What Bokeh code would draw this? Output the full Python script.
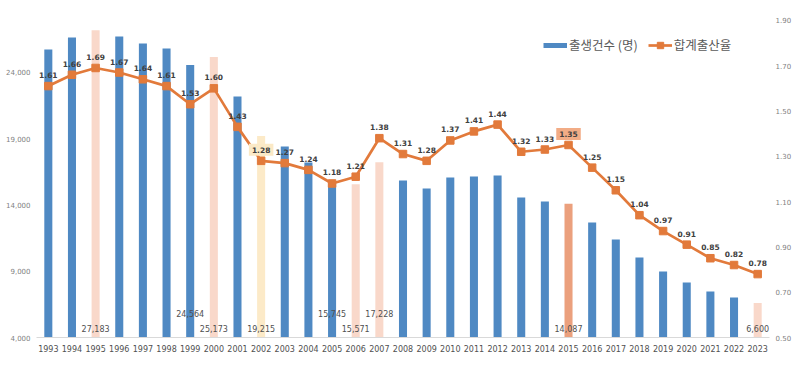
from bokeh.plotting import figure
from bokeh.models import (ColumnDataSource, FactorRange, Range1d, LinearAxis, FixedTicker,
                          NumeralTickFormatter, Legend, LegendItem)
from bokeh.core.properties import value
from bokeh.embed import file_html
from bokeh.resources import INLINE

# ---------------- data ----------------
years = [str(y) for y in range(1993, 2024)]
births = [25740, 26640, 27183, 26720, 26190, 25810, 24564, 25173, 22190, 19215,
          18420, 17210, 15745, 15571, 17228, 15850, 15250, 16080, 16150, 16230,
          14570, 14260, 14087, 12680, 11400, 10040, 8980, 8150, 7470, 7020, 6600]
tfr = [1.61, 1.66, 1.69, 1.67, 1.64, 1.61, 1.53, 1.60, 1.43, 1.28,
       1.27, 1.24, 1.18, 1.21, 1.38, 1.31, 1.28, 1.37, 1.41, 1.44,
       1.32, 1.33, 1.35, 1.25, 1.15, 1.04, 0.97, 0.91, 0.85, 0.82, 0.78]
bar_label_years = ["1995", "1999", "2000", "2002", "2005", "2006", "2007", "2015", "2023"]
births_ticks = [4000, 9000, 14000, 19000, 24000]
tfr_ticks = [0.50, 0.70, 0.90, 1.10, 1.30, 1.50, 1.70, 1.90]
series_names = ["출생건수 (명)", "합계출산율"]

# ---------------- styles ----------------
BLUE = "#4F89C3"
PEACH = "#F9D8CA"
YELLOW = "#FCEAC8"
SALMON = "#EBA07D"
ORANGE = "#E27A3B"
bar_highlight = {"1995": PEACH, "2000": PEACH, "2006": PEACH, "2007": PEACH, "2023": PEACH,
                 "2002": YELLOW, "2015": SALMON}
label_box = {"2002": "#FBE9C6", "2015": "#F2AC86"}
raised_labels = {"1999", "2005", "2007"}

y_start, y_end = 4000, 28981
r_start, r_end = 0.5, 1.9614

p = figure(width=800, height=368, x_range=FactorRange(*years, range_padding=0),
           y_range=Range1d(y_start, y_end), output_backend="svg", toolbar_location=None,
           min_border_left=36, min_border_right=31, min_border_top=6, min_border_bottom=31)
p.extra_y_ranges = {"rate": Range1d(r_start, r_end)}
p.outline_line_color = None
p.xgrid.grid_line_color = None
p.ygrid.grid_line_color = None
p.background_fill_color = "white"

bar_src = ColumnDataSource(dict(x=years, top=births,
                                color=[bar_highlight.get(y, BLUE) for y in years]))
bars = p.vbar(x="x", top="top", bottom=y_start, width=0.34, source=bar_src,
              fill_color="color", line_color=None)

line_src = ColumnDataSource(dict(x=years, y=tfr, lab=[f"{v:.2f}" for v in tfr],
                                 bg=[label_box.get(y, "#FFFFFF") for y in years],
                                 bga=[1.0 if y in label_box else 0.0 for y in years]))
ln = p.line(x="x", y="y", source=line_src, y_range_name="rate", line_color=ORANGE, line_width=2.7)
mk = p.scatter(x="x", y="y", source=line_src, y_range_name="rate", marker="square", size=7.5,
               fill_color=ORANGE, line_color=ORANGE)
p.text(x="x", y="y", text="lab", source=line_src, y_range_name="rate", y_offset=-11,
       text_align="center", text_baseline="middle", text_font=value("DejaVu Sans"),
       text_font_style="bold", text_font_size="7.5px", text_color="#404040",
       background_fill_color="bg", background_fill_alpha="bga", padding=3)

bl_idx = [years.index(y) for y in bar_label_years]
bl_src = ColumnDataSource(dict(x=bar_label_years, y=[y_start] * len(bar_label_years),
                               lab=[f"{births[i]:,}" for i in bl_idx],
                               yo=[-24 if y in raised_labels else -9 for y in bar_label_years]))
p.text(x="x", y="y", text="lab", source=bl_src, y_offset="yo", text_align="center",
       text_baseline="middle", text_font=value("DejaVu Sans"), text_font_size="8px",
       text_color="#505050")

# axes
for ax in (p.xaxis[0], p.yaxis[0]):
    ax.major_tick_out = 0
    ax.major_tick_in = 0
    ax.minor_tick_out = 0
    ax.minor_tick_in = 0
    ax.major_tick_line_color = None
    ax.minor_tick_line_color = None
    ax.major_label_text_font = "DejaVu Sans"

p.xaxis.axis_line_color = "#D9D9D9"
p.xaxis.major_label_standoff = 7
p.xaxis.major_label_text_font_size = "8px"
p.xaxis.major_label_text_color = "#505050"

p.yaxis.ticker = FixedTicker(ticks=births_ticks)
p.yaxis.formatter = NumeralTickFormatter(format="0,0")
p.yaxis.axis_line_color = None
p.yaxis.major_label_standoff = 6
p.yaxis.major_label_text_font_size = "7px"
p.yaxis.major_label_text_color = "#7F7F7F"

ax2 = LinearAxis(y_range_name="rate", ticker=FixedTicker(ticks=tfr_ticks),
                 formatter=NumeralTickFormatter(format="0.00"))
ax2.axis_line_color = None
ax2.major_tick_out = 0
ax2.major_tick_in = 0
ax2.minor_tick_out = 0
ax2.minor_tick_in = 0
ax2.major_tick_line_color = None
ax2.minor_tick_line_color = None
ax2.major_label_standoff = 6
ax2.major_label_text_font = "DejaVu Sans"
ax2.major_label_text_font_size = "7px"
ax2.major_label_text_color = "#7F7F7F"
p.add_layout(ax2, "right")

# legend
proxy = p.line(x=[years[0], years[0]], y=[float("nan"), float("nan")],
               line_color=BLUE, line_width=5)
legend = Legend(items=[LegendItem(label=series_names[0], renderers=[proxy]),
                       LegendItem(label=series_names[1], renderers=[ln, mk])],
                orientation="horizontal", location=(507, 283),
                padding=0, margin=0, spacing=10, label_standoff=2,
                glyph_width=24, glyph_height=16, border_line_color=None,
                background_fill_alpha=0,
                label_text_font="Noto Sans CJK KR", label_text_font_size="12.5px",
                label_text_color="#595959")
p.add_layout(legend)

open("out.html", "w").write(file_html(p, INLINE))
